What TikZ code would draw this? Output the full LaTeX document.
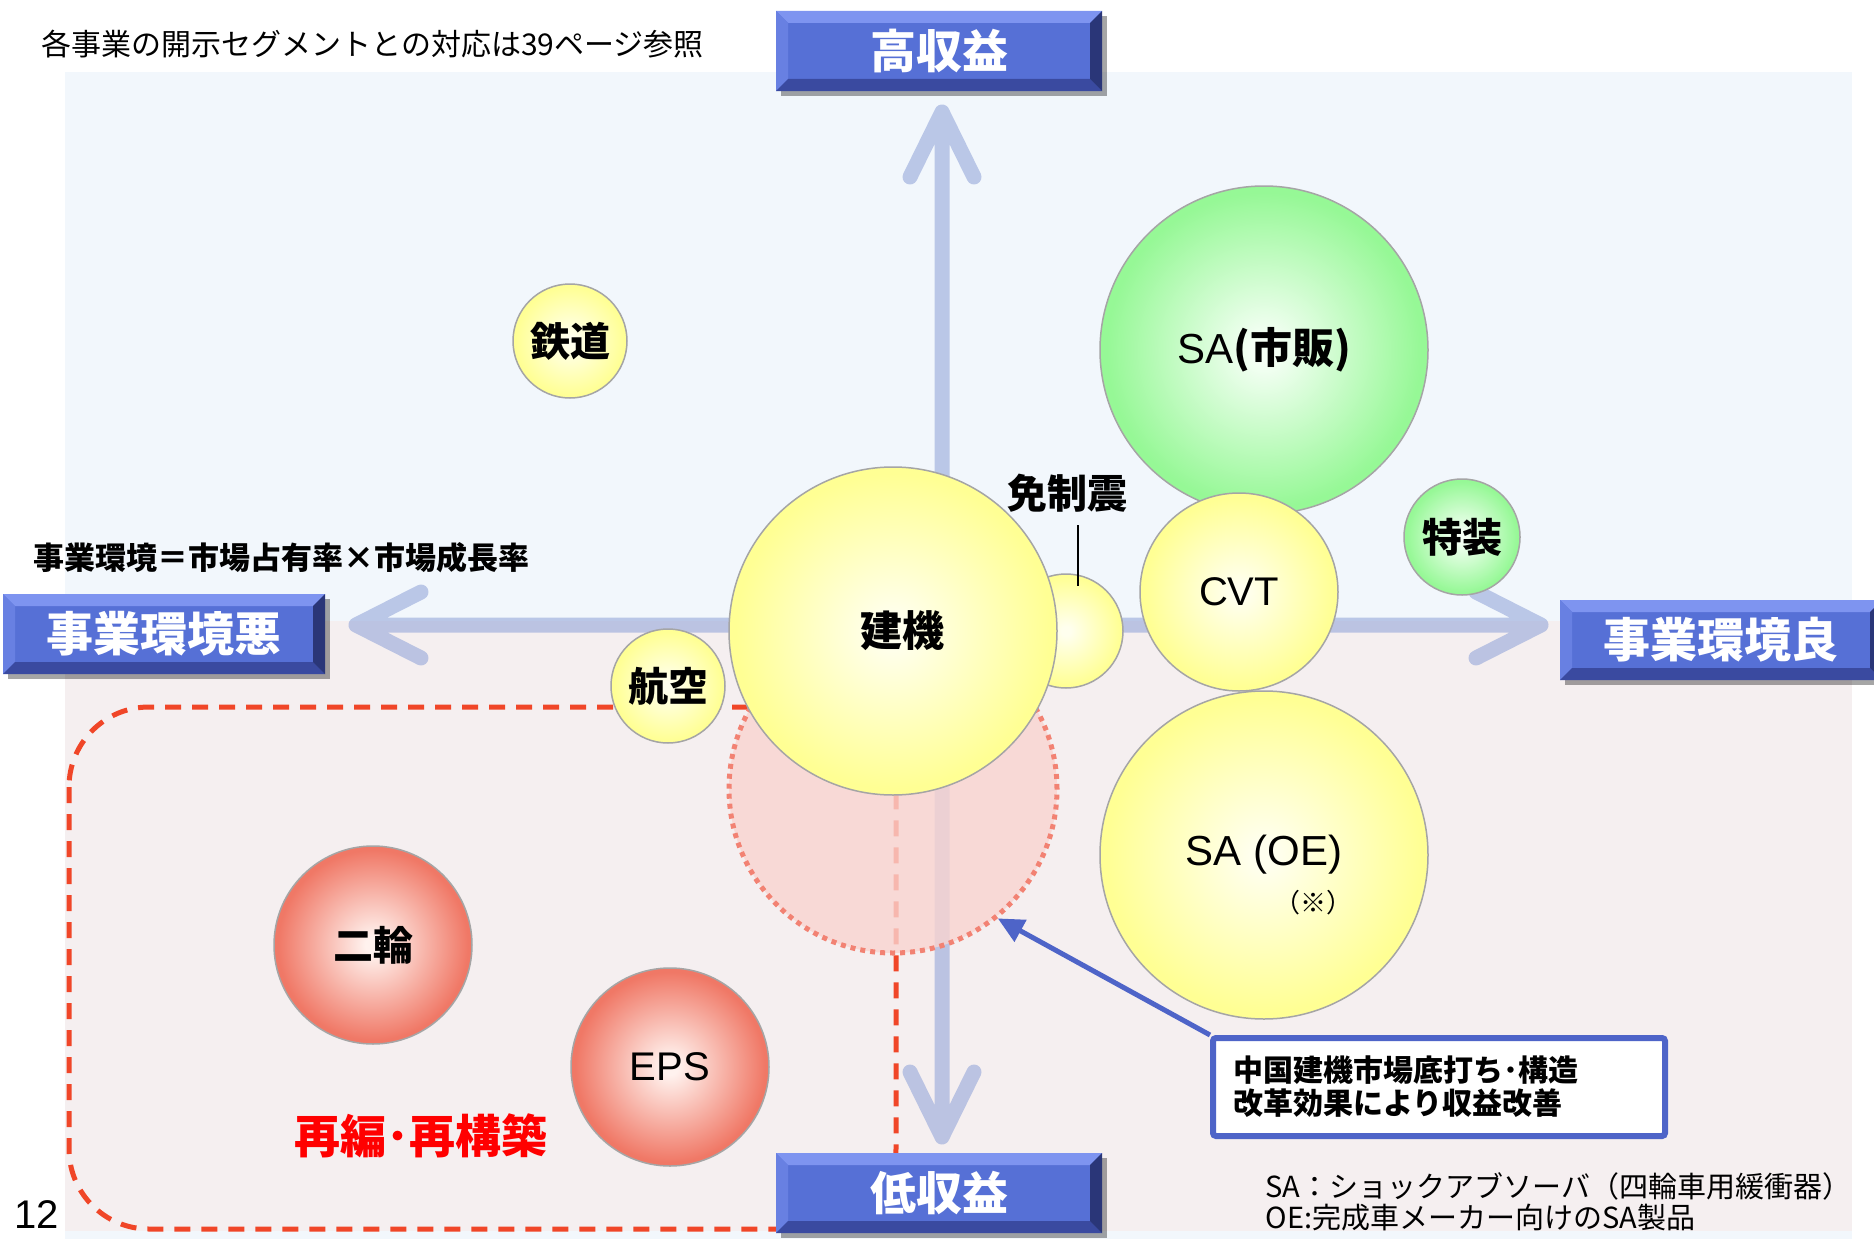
\documentclass[tikz,border=0pt]{standalone}
\usepackage{fontspec}
\setmainfont{Noto Sans CJK JP}
\newfontfamily\latin{Liberation Sans}
\usetikzlibrary{arrows.meta,shadows}

\definecolor{topbg}{RGB}{242,247,252}
\definecolor{lowbg}{RGB}{245,239,240}
\definecolor{axiscol}{RGB}{140,160,215}
\definecolor{boxblue}{RGB}{86,112,214}
\definecolor{bevtop}{RGB}{126,148,240}
\definecolor{bevleft}{RGB}{104,128,226}
\definecolor{bevbottom}{RGB}{58,74,160}
\definecolor{bevright}{RGB}{42,54,120}
\definecolor{callblue}{RGB}{78,100,200}
\definecolor{dashred}{RGB}{240,70,40}
\definecolor{dotpink}{RGB}{242,130,115}
\definecolor{pinkfill}{RGB}{249,212,208}
\definecolor{rimgray}{RGB}{165,165,165}
\definecolor{yelin}{RGB}{255,255,238}
\definecolor{yelout}{RGB}{255,255,148}
\definecolor{grnin}{RGB}{245,255,245}
\definecolor{grnout}{RGB}{150,248,150}
\definecolor{redin}{RGB}{255,242,238}
\definecolor{redout}{RGB}{240,120,102}

\pgfdeclareradialshading{yellowball}{\pgfpointorigin}{color(0bp)=(yelin); color(2bp)=(yelin); color(24bp)=(yelout); color(50bp)=(yelout)}
\pgfdeclareradialshading{greenball}{\pgfpointorigin}{color(0bp)=(grnin); color(2bp)=(grnin); color(24bp)=(grnout); color(50bp)=(grnout)}
\pgfdeclareradialshading{redball}{\pgfpointorigin}{color(0bp)=(redin); color(2bp)=(redin); color(24bp)=(redout); color(50bp)=(redout)}

\newcommand\fsz[1]{\fontsize{#1}{#1}\selectfont}

\tikzset{
  ball/.style={circle,draw=rimgray,line width=1.5pt,inner sep=0pt,minimum size=#1,font=\fsz{40}\bfseries},
  yball/.style={ball=#1,shade,shading=yellowball},
  gball/.style={ball=#1,shade,shading=greenball},
  rball/.style={ball=#1,shade,shading=redball},
  axis/.style={draw=axiscol,draw opacity=0.55,line width=15pt,line cap=round,line join=round},
  region/.style={draw=dashred,line width=5pt,dash pattern=on 16pt off 11pt,rounded corners=80pt},
  target/.style={circle,minimum size=328pt,inner sep=0pt,fill=pinkfill,fill opacity=0.8,draw=dotpink,line width=5pt,dash pattern=on 5pt off 5pt},
  note/.style={draw=callblue,line width=6pt,fill=white,rounded corners=3pt,align=left,text width=412pt,inner xsep=20pt,minimum height=98pt,font=\fontsize{30}{33}\selectfont\bfseries},
  callout/.style={draw=callblue,line width=5pt,-{Triangle[length=26pt,width=24pt]}},
  labelbox/.style={fill=boxblue,text=white,font=\fsz{46}\bfseries,inner sep=0pt,minimum width=326pt,minimum height=80pt,
    drop shadow={shadow xshift=5pt,shadow yshift=-5pt,fill=black,opacity=0.35},
    path picture={
      \fill[bevtop] (path picture bounding box.north west) -- (path picture bounding box.north east)
        -- ([xshift=-12pt,yshift=-12pt]path picture bounding box.north east) -- ([xshift=12pt,yshift=-12pt]path picture bounding box.north west) -- cycle;
      \fill[bevleft] (path picture bounding box.north west) -- (path picture bounding box.south west)
        -- ([xshift=12pt,yshift=12pt]path picture bounding box.south west) -- ([xshift=12pt,yshift=-12pt]path picture bounding box.north west) -- cycle;
      \fill[bevbottom] (path picture bounding box.south west) -- (path picture bounding box.south east)
        -- ([xshift=-12pt,yshift=12pt]path picture bounding box.south east) -- ([xshift=12pt,yshift=12pt]path picture bounding box.south west) -- cycle;
      \fill[bevright] (path picture bounding box.north east) -- (path picture bounding box.south east)
        -- ([xshift=-12pt,yshift=12pt]path picture bounding box.south east) -- ([xshift=-12pt,yshift=-12pt]path picture bounding box.north east) -- cycle;
    }},
}

\begin{document}
\begin{tikzpicture}[x=1pt,y=-1pt]
  \fill[white] (0,0) rectangle (1874,1239);
  \useasboundingbox (0,0) rectangle (1874,1239);
  \fill[topbg] (65,72) rectangle (1852,1239);
  \fill[lowbg] (65,621) rectangle (1852,1231);

  \coordinate (origin) at (942,625);
  \coordinate (uptip) at (942,112);
  \coordinate (downtip) at (942,1137);
  \coordinate (lefttip) at (356,625);
  \coordinate (righttip) at (1541,625);
  \draw[axis] (origin) -- (uptip) -- ++(-32,65) (uptip) -- ++(32,65)
    (origin) -- (downtip) -- ++(-32,-65) (downtip) -- ++(32,-65)
    (origin) -- (lefttip) -- ++(65,-33) (lefttip) -- ++(65,33)
    (origin) -- (righttip) -- ++(-65,-33) (righttip) -- ++(-65,33);

  \draw[region] (69,707) rectangle (896,1229);
  \node[target] (kenkitarget) at (893,789) {};

  \node[yball=114pt] (rail) at (570,341) {鉄道};
  \node[yball=114pt] (aero) at (668,686) {航空};
  \node[yball=114pt] (menshin) at (1066,631) {};
  \node[yball=328pt,font=\fsz{42}\bfseries] (kenki) at (893,631) {\hspace*{18pt}建機};
  \node[gball=328pt,font=\fsz{42}] (saafter) at (1264,350) {{\latin SA}\textbf{(市販)}};
  \node[gball=116pt] (tokuso) at (1462,537) {特装};
  \node[yball=198pt,font=\fsz{40}\latin] (cvt) at (1239,592) {CVT};
  \node[yball=328pt,font=\fsz{42}\latin] (saoe) at (1264,855) {SA (OE)};
  \node[font=\fsz{26}] (oenote) at (1313,903) {（※）};
  \node[rball=198pt] (nirin) at (373,945) {二輪};
  \node[rball=198pt,font=\fsz{40}\latin] (eps) at (670,1067) {EPS};

  \node[inner sep=0pt,font=\fsz{40}\bfseries] (menlabel) at (1067,493) {免制震};
  \coordinate (menpoint) at (1078,586);
  \draw[line width=1.5pt,shorten <=13pt] (menlabel.south -| menpoint) -- (menpoint);

  \node[note] (note) at (1439,1087) {中国建機市場底打ち･構造\\改革効果により収益改善};
  \draw[callout] (note.north west) -- (kenkitarget.-51);

  \node[labelbox] (highprofit) at (939,51) {高収益};
  \node[labelbox] (lowprofit) at (939,1193) {低収益};
  \node[labelbox,minimum width=322pt,font=\fsz{47}\bfseries] (badenv) at (164,634) {事業環境悪};
  \node[labelbox,minimum width=322pt,font=\fsz{47}\bfseries] (goodenv) at (1721,640) {事業環境良};

  \node[anchor=west,font=\fsz{30}] (seglink) at (38,44) {各事業の開示セグメントとの対応は39ページ参照};
  \node[anchor=west,font=\fsz{31}\bfseries] (envdef) at (30,558) {事業環境＝市場占有率×市場成長率};
  \node[font=\fsz{46}\bfseries,text=red] (regroup) at (421,1136) {再編･再構築};
  \node[font=\fsz{40}\latin] (pageno) at (37,1215) {12};
  \node[anchor=west,align=left,font=\fontsize{29}{31}\selectfont] (legend) at (1262,1202) {SA：ショックアブソーバ（四輪車用緩衝器）\\OE:完成車メーカー向けのSA製品};
\end{tikzpicture}
\end{document}
